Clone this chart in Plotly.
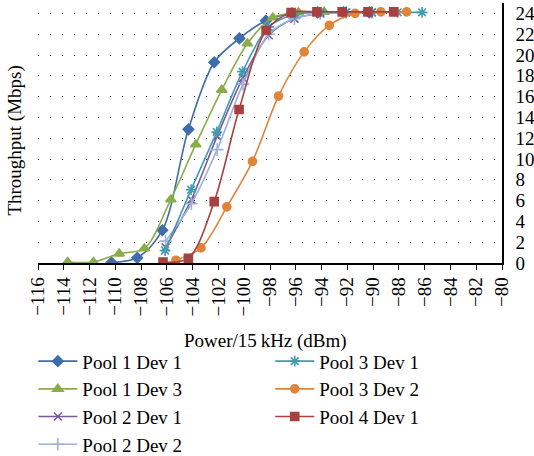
import plotly.graph_objects as go

# ---- data ----
p1d1_x = [-110.3, -108.3, -106.35, -104.33, -102.33, -100.37, -98.32, -96.3, -94.3, -92.3, -90.3]
p1d1_y = [0.05, 0.5, 3.15, 12.85, 19.3, 21.6, 23.3, 24.0, 24.1, 24.1, 24.1]

p1d3_x = [-113.7, -111.7, -109.7, -107.75, -105.7, -103.76, -101.74, -99.75, -97.78, -95.8, -93.8]
p1d3_y = [0.1, 0.1, 0.9, 1.4, 6.1, 11.4, 16.65, 21.1, 23.6, 24.1, 24.15]

p2d1_x = [-106.1, -104.1, -102.1, -100.1, -98.1, -96.1, -94.1, -92.1, -90.1]
p2d1_y = [1.5, 6.1, 12.2, 17.8, 21.9, 23.5, 24.0, 24.1, 24.1]

p2d2_x = [-106.1, -104.1, -102.1, -100.1, -98.1, -96.1, -94.1, -92.1, -90.1]
p2d2_y = [2.1, 5.7, 10.9, 17.2, 22.0, 23.5, 24.0, 24.1, 24.1]

p3d1_x = [-106.14, -104.12, -102.13, -100.13, -98.1, -96.1, -94.1, -92.1, -90.1, -88.1, -86.2]
p3d1_y = [1.2, 7.05, 12.6, 18.4, 22.7, 23.9, 24.1, 24.1, 24.1, 24.1, 24.1]

p3d2_x = [-105.3, -103.35, -101.35, -99.36, -97.34, -95.35, -93.4, -91.4, -89.4, -87.4]
p3d2_y = [0.27, 1.45, 5.4, 9.77, 16.05, 20.3, 22.85, 24.0, 24.15, 24.15]

p4d1_x = [-106.3, -104.33, -102.33, -100.4, -98.3, -96.36, -94.36, -92.4, -90.4, -88.4]
p4d1_y = [0.08, 0.46, 5.9, 14.76, 22.35, 24.07, 24.15, 24.15, 24.15, 24.15]

x_ticks = list(range(-116, -79, 2))
y_ticks = list(range(0, 25, 2))

FONT = "Liberation Serif"

series = [
    ("Pool 1 Dev 1", p1d1_x, p1d1_y, "#3E6DAA", "diamond", 8, "legend"),
    ("Pool 1 Dev 3", p1d3_x, p1d3_y, "#8AAC4B", "triangle-up", 9, "legend"),
    ("Pool 2 Dev 1", p2d1_x, p2d1_y, "#7A5A9C", "x-thin", 8, "legend"),
    ("Pool 2 Dev 2", p2d2_x, p2d2_y, "#9BB2DC", "cross-thin", 9, "legend"),
    ("Pool 3 Dev 1", p3d1_x, p3d1_y, "#3F9BB2", "asterisk", 9, "legend2"),
    ("Pool 3 Dev 2", p3d2_x, p3d2_y, "#E0843A", "circle", 8, "legend2"),
    ("Pool 4 Dev 1", p4d1_x, p4d1_y, "#A8403F", "square", 8, "legend2"),
]

fig = go.Figure()
for i, (name, xs, ys, col, sym, sz, leg) in enumerate(series):
    fig.add_trace(go.Scatter(
        x=xs, y=ys, name=name, mode="lines+markers",
        line=dict(color=col, width=1.6, shape="spline", smoothing=0.9),
        marker=dict(symbol=sym, size=sz, color=col,
                    line=dict(color=col, width=1.6)),
        legend=leg, legendgroup=f"g{i}",
    ))

fig.update_layout(
    width=534, height=456,
    margin=dict(l=38, r=32, t=3, b=192.5, autoexpand=False),
    paper_bgcolor="white", plot_bgcolor="white",
    font=dict(family=FONT, size=19, color="black"),
    showlegend=True,
    legend=dict(x=-0.01, y=-0.305, xanchor="left", yanchor="top",
                font=dict(family=FONT, size=19), itemwidth=39,
                tracegroupgap=0, bgcolor="rgba(0,0,0,0)"),
    legend2=dict(x=0.5005, y=-0.305, xanchor="left", yanchor="top",
                 font=dict(family=FONT, size=19), itemwidth=39,
                 tracegroupgap=0, bgcolor="rgba(0,0,0,0)"),
    xaxis=dict(range=[-116, -80], tickvals=x_ticks,
               ticktext=[f"\u2212{abs(v)}" for v in x_ticks],
               tickangle=-90, showgrid=False, zeroline=False,
               showline=True, linecolor="black", linewidth=1.5,
               ticks="outside", ticklen=5, tickcolor="black",
               tickfont=dict(family=FONT, size=19)),
    yaxis=dict(range=[0, 25], tickvals=y_ticks, side="right",
               showgrid=True, gridcolor="#333333", gridwidth=1.3,
               griddash="1.3px,10.7px", zeroline=False,
               showline=True, linecolor="black", linewidth=1.5,
               ticks="", ticklabelstandoff=8,
               tickfont=dict(family=FONT, size=19)),
    annotations=[
        dict(text="Power/15\u2009kHz (dBm)", x=0.49, y=-0.30,
             xref="paper", yref="paper", showarrow=False,
             xanchor="center", yanchor="middle",
             font=dict(family=FONT, size=19)),
        dict(text="Throughput (Mbps)", x=-0.05, y=0.47,
             xref="paper", yref="paper", showarrow=False,
             textangle=-90, xanchor="center", yanchor="middle",
             font=dict(family=FONT, size=19)),
    ],
)

fig.write_html("out.html")
